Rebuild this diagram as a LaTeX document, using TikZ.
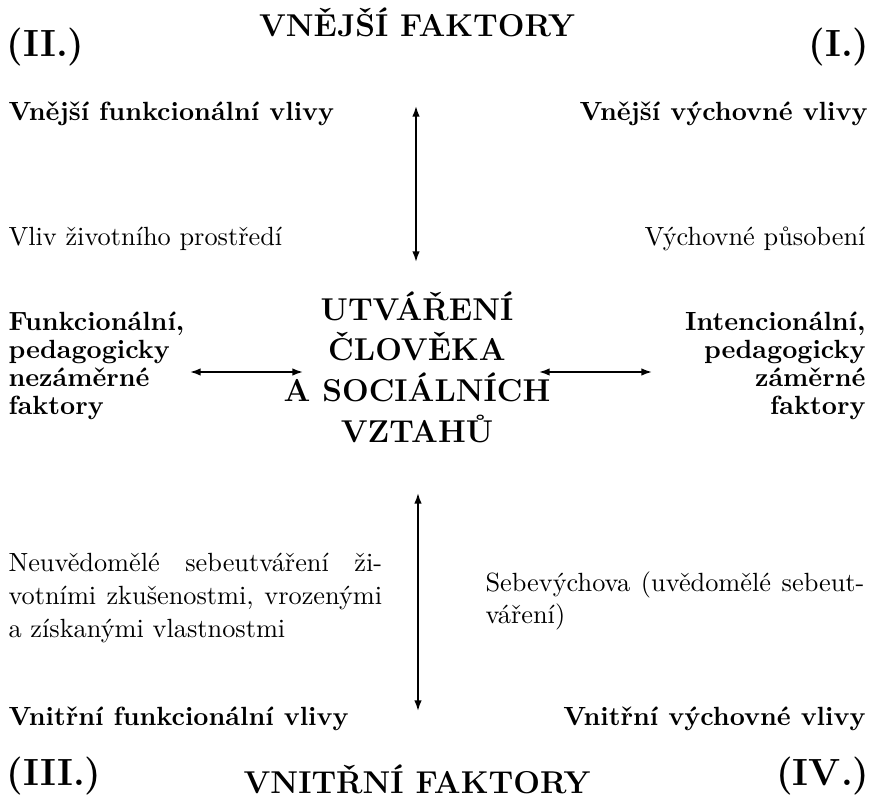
\documentclass[tikz,border=0pt]{standalone}
\usepackage{fontspec}
\usetikzlibrary{arrows.meta}
\begin{document}
\begin{tikzpicture}[x=0.38pt,y=-0.38pt,
  lbl/.style={inner sep=0pt,font=\bfseries},
  txt/.style={inner sep=0pt},
  big/.style={inner sep=0pt,font=\Large\bfseries},
  head/.style={inner sep=0pt,font=\large\bfseries},
  arr/.style={{Latex[length=4pt,width=2.8pt]}-{Latex[length=4pt,width=2.8pt]},line width=0.6pt}]
\useasboundingbox (0,0) rectangle (876,796);
% top
\node[big,anchor=base west] (q2) at (6,57) {(II.)};
\node[head,anchor=base] (vnej) at (417,37) {VNĚJŠÍ FAKTORY};
\node[big,anchor=base east] (q1) at (870,57) {(I.)};
\node[lbl,anchor=base west] (vfv) at (8,121) {Vnější funkcionální vlivy};
\node[lbl,anchor=base east] (vvv) at (868,121) {Vnější výchovné vlivy};
\node[txt,anchor=base west] (vzp) at (8,246) {Vliv životního prostředí};
\node[txt,anchor=base east] (vp) at (866,246) {Výchovné působení};
% centre
\node[head,anchor=base] (c1) at (417,321) {UTVÁŘENÍ};
\node[head,anchor=base] (c2) at (417,361) {ČLOVĚKA};
\node[head,anchor=base] (c3) at (417,402) {A SOCIÁLNÍCH};
\node[head,anchor=base] (c4) at (417,443) {VZTAHŮ};
% left block
\node[lbl,anchor=base west] (l1) at (8,331) {Funkcionální,};
\node[lbl,anchor=base west] (l2) at (8,359) {pedagogicky};
\node[lbl,anchor=base west] (l3) at (8,387) {nezáměrné};
\node[lbl,anchor=base west] (l4) at (8,415) {faktory};
% right block
\node[lbl,anchor=base east] (r1) at (866,331) {Intencionální,};
\node[lbl,anchor=base east] (r2) at (866,359) {pedagogicky};
\node[lbl,anchor=base east] (r3) at (866,387) {záměrné};
\node[lbl,anchor=base east] (r4) at (866,415) {faktory};
% lower paragraphs
\node[txt,anchor=base west] (p1) at (8,572) {\makebox[142pt][s]{Neuvědomělé sebeutváření ži-}};
\node[txt,anchor=base west] (p2) at (8,605) {\makebox[142pt][s]{votními zkušenostmi, vrozenými}};
\node[txt,anchor=base west] (p3) at (8,638) {a získanými vlastnostmi};
\node[txt,anchor=base west] (s1) at (485,592) {\makebox[144pt][s]{Sebevýchova (uvědomělé sebeut-}};
\node[txt,anchor=base west] (s2) at (485,624) {váření)};
% bottom
\node[lbl,anchor=base west] (ifv) at (8,725) {Vnitřní funkcionální vlivy};
\node[lbl,anchor=base east] (ivv) at (866,725) {Vnitřní výchovné vlivy};
\node[big,anchor=base west] (q3) at (6,785) {(III.)};
\node[head,anchor=base] (vnit) at (417,793) {VNITŘNÍ FAKTORY};
\node[big,anchor=base east] (q4) at (870,785) {(IV.)};
% arrow ends
\coordinate (at) at (416,106);
\coordinate (ab) at (416,262);
\coordinate (bt) at (418,493);
\coordinate (bb) at (418,711);
\coordinate (ll) at (190,372);
\coordinate (lr) at (303,372);
\coordinate (rl) at (539,372);
\coordinate (rr) at (652,372);
\draw[arr] (at) -- (ab);
\draw[arr] (bt) -- (bb);
\draw[arr] (ll) -- (lr);
\draw[arr] (rl) -- (rr);
\end{tikzpicture}
\end{document}
